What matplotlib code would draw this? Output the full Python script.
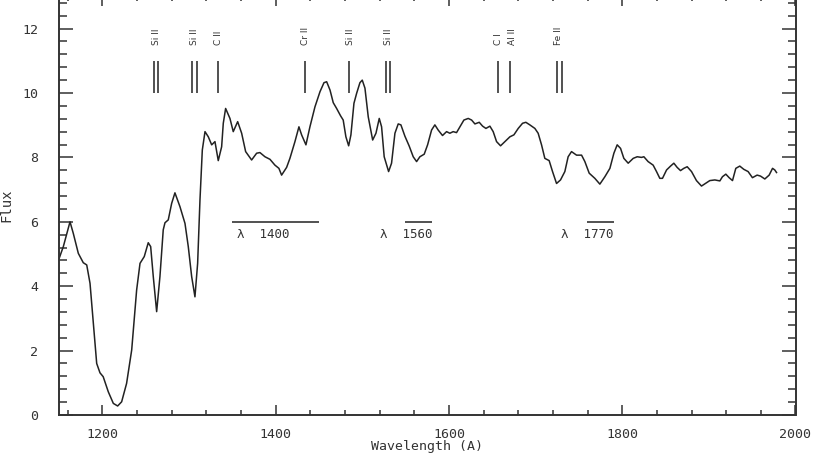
import numpy as np
import matplotlib
matplotlib.use("Agg")
import matplotlib.pyplot as plt
from matplotlib.ticker import MultipleLocator

# spectrum (wavelength in A, flux)
wave = [1150, 1155, 1162.7, 1166.5, 1172.3, 1178, 1182, 1185.8, 1189.6, 1193.5,
        1197.3, 1201, 1206.9, 1212.7, 1217.7, 1222.3, 1228, 1233.9, 1239.6, 1243.5,
        1248.4, 1253, 1255.8, 1258.8, 1262.7, 1266.5, 1270.3, 1272.3, 1276.1, 1280,
        1283.8, 1289.6, 1295.4, 1299.2, 1303.1, 1306.9, 1310, 1312.7, 1315.4, 1318.5,
        1322.3, 1326.2, 1330, 1333.8, 1337.7, 1339.6, 1342.3, 1347.3, 1351.1, 1356.2,
        1360.8, 1365.4, 1372.3, 1378.1, 1381.9, 1387.7, 1393.5, 1399.2, 1403.8, 1406.9,
        1412.7, 1416.5, 1422.3, 1426.9, 1430, 1435, 1439.6, 1445.4, 1451.2, 1455.8,
        1458.9, 1462.8, 1466.5, 1470.4, 1475, 1478, 1481.1, 1484.3, 1486.9, 1490.4,
        1493.5, 1497.3, 1500, 1503.1, 1506.9, 1512, 1515.8, 1519.6, 1522.3, 1525.3,
        1530.4, 1533.8, 1537.7, 1541.5, 1544.6, 1549.2, 1554.2, 1558.8, 1562.7, 1566.5,
        1571.5, 1575.4, 1580, 1583.8, 1587.6, 1592.6, 1597.3, 1601.1, 1604.9, 1608.8,
        1612.7, 1617.3, 1622.3, 1626.2, 1630, 1635, 1638.9, 1642.7, 1647.3, 1651.1,
        1655, 1659.6, 1664.6, 1670.4, 1675, 1680, 1685, 1688.8, 1693.4, 1699.2,
        1703, 1706.9, 1710.7, 1715.7, 1719.6, 1724.2, 1728.8, 1733.8, 1737.6, 1741.5,
        1747.3, 1753.1, 1756.9, 1761.9, 1768.4, 1774.2, 1780, 1785.8, 1790.4, 1794.2,
        1798.1, 1801.9, 1806.9, 1812.7, 1817.3, 1822.3, 1825, 1829.9, 1835.7, 1839.6,
        1843.4, 1846.5, 1851.2, 1855.8, 1859.6, 1863.4, 1867.3, 1871.1, 1875, 1880,
        1885.7, 1891.5, 1896.1, 1901.1, 1906.9, 1912.7, 1915.7, 1919.6, 1923.4, 1927.3,
        1931.1, 1935.7, 1940.3, 1945.3, 1950.3, 1955.7, 1959.6, 1964.6, 1969.6, 1973.5,
        1976.1, 1978.1]
flux = [4.85, 5.23, 6.0, 5.64, 5.02, 4.73, 4.66, 4.09, 2.85, 1.6,
        1.31, 1.19, 0.72, 0.36, 0.28, 0.41, 0.98, 2.02, 3.88, 4.71,
        4.92, 5.35, 5.23, 4.30, 3.21, 4.30, 5.75, 5.97, 6.06, 6.57,
        6.90, 6.47, 5.95, 5.23, 4.30, 3.67, 4.71, 6.68, 8.23, 8.80,
        8.64, 8.39, 8.49, 7.90, 8.33, 9.06, 9.52, 9.21, 8.80, 9.11,
        8.75, 8.18, 7.92, 8.13, 8.15, 8.02, 7.94, 7.76, 7.66, 7.45,
        7.69, 7.97, 8.49, 8.95, 8.70, 8.39, 8.95, 9.57, 10.04, 10.32,
        10.35, 10.09, 9.70, 9.52, 9.29, 9.16, 8.64, 8.36, 8.70, 9.68,
        9.99, 10.32, 10.40, 10.15, 9.26, 8.54, 8.75, 9.21, 8.95, 8.02,
        7.56, 7.82, 8.75, 9.04, 9.01, 8.66, 8.35, 8.02, 7.87, 8.02,
        8.10, 8.39, 8.85, 9.01, 8.85, 8.68, 8.80, 8.75, 8.80, 8.77,
        8.95, 9.16, 9.21, 9.16, 9.04, 9.09, 8.97, 8.90, 8.97, 8.80,
        8.49, 8.36, 8.49, 8.64, 8.70, 8.90, 9.06, 9.09, 9.01, 8.90,
        8.75, 8.39, 7.97, 7.90, 7.56, 7.19, 7.30, 7.56, 8.02, 8.18,
        8.07, 8.07, 7.87, 7.51, 7.35, 7.17, 7.40, 7.66, 8.13, 8.39,
        8.28, 7.97, 7.82, 7.97, 8.02, 8.00, 8.02, 7.87, 7.76, 7.56,
        7.35, 7.35, 7.61, 7.73, 7.82, 7.69, 7.59, 7.66, 7.71, 7.56,
        7.28, 7.11, 7.19, 7.28, 7.30, 7.27, 7.40, 7.48, 7.37, 7.28,
        7.66, 7.73, 7.63, 7.56, 7.37, 7.45, 7.42, 7.33, 7.45, 7.66,
        7.61, 7.53]

# line identifications: label, label position, line positions
ion_labels = ["Si II", "Si II", "C II", "Cr II", "Si II", "Si II", "C I", "Al II", "Fe II"]
ion_label_x = [1262, 1306, 1334, 1434, 1486, 1530, 1657, 1673, 1727]
ion_lines = [1260, 1264.5, 1304, 1309, 1334, 1434, 1485, 1527, 1532, 1657, 1670.5, 1724.5, 1730]

# continuum windows
band_names = ["1400", "1560", "1770"]
band_start = [1350, 1549, 1759]
band_end = [1450, 1580, 1790]
band_text_x = [1355, 1520, 1729]

ink = "#222222"
mono = "DejaVu Sans Mono"

fig = plt.figure(figsize=(8.17, 4.55), dpi=100)
ax = fig.add_axes([59 / 817, 40 / 455, 736.5 / 817, 418.6 / 455])

ax.plot(wave, flux, color=ink, lw=1.1)

ax.vlines(ion_lines, 10, 11, color=ink, lw=1.1)
for lab, x in zip(ion_labels, ion_label_x):
    ax.text(x, 11.5, lab, rotation=90, ha="center", va="bottom", fontsize=6.5,
            color="#333333")

ax.hlines([6.0] * len(band_start), band_start, band_end, color=ink, lw=1.1)
for name, x in zip(band_names, band_text_x):
    ax.text(x, 5.6, "\u03bb  " + name, ha="left", va="center", fontsize=9,
            family=mono, color="#333333")

ax.set_xlim(1150, 2000)
ax.set_ylim(0, 13)
ax.xaxis.set_major_locator(MultipleLocator(200))
ax.xaxis.set_minor_locator(MultipleLocator(40))
ax.yaxis.set_major_locator(MultipleLocator(2))
ax.yaxis.set_minor_locator(MultipleLocator(0.4))

for s in ax.spines.values():
    s.set_linewidth(1.4)
    s.set_color("#333333")

ax.tick_params(which="both", direction="in", top=True, right=True,
               color="#333333", width=1.1, labelcolor="#333333")
ax.tick_params(axis="x", which="major", length=7.2, pad=9)
ax.tick_params(axis="x", which="minor", length=3.6)
ax.tick_params(axis="y", which="major", length=10, pad=15)
ax.tick_params(axis="y", which="minor", length=5.8)
for lbl in ax.get_xticklabels() + ax.get_yticklabels():
    lbl.set_family(mono)
    lbl.set_fontsize(9.5)

ax.set_xlabel("Wavelength (A)", family=mono, fontsize=9.5, color="#333333")
ax.set_ylabel("Flux", family=mono, fontsize=10, color="#333333")
ax.xaxis.set_label_coords(0.5, -0.06)
ax.yaxis.set_label_coords(-0.062, 0.5)

fig.savefig("out.png", dpi=100)
